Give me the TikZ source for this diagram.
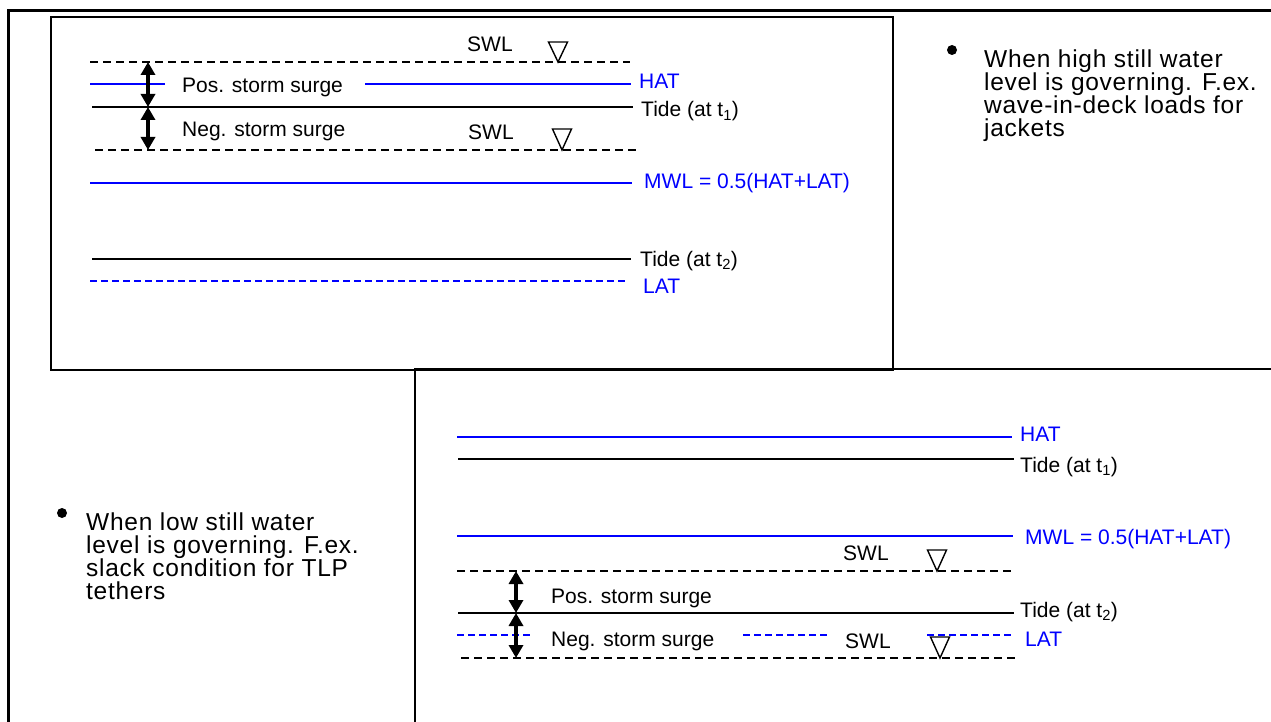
\documentclass[tikz,border=0pt]{standalone}
\usepackage{fontspec}
\setmainfont{Liberation Sans}
\newfontfamily\bulletfont[LetterSpace=3]{Liberation Sans}
\usetikzlibrary{arrows.meta}
\begin{document}
\begin{tikzpicture}[x=1pt,y=-1pt,
  lbl/.style={anchor=base west, inner sep=0pt, font=\fontsize{21}{23}\selectfont},
  bluelbl/.style={lbl, text=blue},
  level/.style={line width=1.5pt, draw=black},
  bluelevel/.style={line width=1.7pt, draw=blue},
  swl/.style={line width=2.8pt, draw=black, dash pattern=on 8pt off 5pt},
  bluedash/.style={line width=2.6pt, draw=blue, dash pattern=on 7pt off 4pt},
  surge/.style={line width=3.4pt, {Triangle[width=14pt,length=13pt]}-{Triangle[width=14pt,length=13pt]}},
  frame/.style={line width=3pt},
  boxline/.style={line width=2.4pt},
  wl/.style={line width=1.4pt, line join=miter},
  bullet/.style={circle, fill=black, inner sep=0pt, minimum size=10pt},
  btext/.style={anchor=base west, inner sep=0pt},
]
\useasboundingbox (0,0) rectangle (1271,722);

% frames
\draw[frame] (8,722) -- (8,11) -- (1271,11);
\draw[boxline] (51,17) rectangle (893,370);
\draw[boxline] (415,722) -- (415,369) -- (1271,369);

% ---------- top panel ----------
\draw[swl] (90,62) -- (630,62);
\node[lbl] (swlA) at (467,52) {SWL};
\draw[wl] (548.5,42) -- (567.5,42) -- (558,62) -- cycle;
\draw[bluelevel] (90,84) -- (165,84);
\draw[bluelevel] (365,84) -- (631,84);
\node[bluelbl] (hatA) at (639,89) {HAT};
\node[lbl] (posA) at (182,93) {Pos. storm surge};
\draw[level] (92,107) -- (633,107);
\node[lbl] (tideA) at (641,117) {Tide (at t\textsubscript{1})};
\node[lbl] (negA) at (182,137) {Neg. storm surge};
\draw[swl] (95,150) -- (636,150);
\node[lbl] (swlB) at (468,140) {SWL};
\draw[wl] (552.5,129) -- (571.5,129) -- (562,150) -- cycle;
\draw[bluelevel] (90,183) -- (632,183);
\node[bluelbl] (mwlA) at (644,189) {MWL = 0.5(HAT+LAT)};
\draw[level] (92,259) -- (631,259);
\node[lbl] (tideB) at (640,266) {Tide (at t\textsubscript{2})};
\draw[bluedash] (90,281) -- (628,281);
\node[bluelbl] (latA) at (643,293) {LAT};
\coordinate (a1) at (148,62);
\coordinate (a2) at (148,107);
\coordinate (a3) at (148,150);
\draw[surge] (a1) -- (a2);
\draw[surge] (a2) -- (a3);

% ---------- bottom panel ----------
\draw[bluelevel] (457,437) -- (1012,437);
\node[bluelbl] (hatB) at (1020,441) {HAT};
\draw[level] (458,459) -- (1014,459);
\node[lbl] (tideC) at (1020,472) {Tide (at t\textsubscript{1})};
\draw[bluelevel] (457,536) -- (1013,536);
\node[bluelbl] (mwlB) at (1025,544) {MWL = 0.5(HAT+LAT)};
\node[lbl] (swlC) at (843,560) {SWL};
\draw[wl] (927.5,550) -- (946.5,550) -- (937,571) -- cycle;
\draw[swl] (457,571) -- (1012,571);
\node[lbl] (posB) at (551,603) {Pos. storm surge};
\draw[level] (458,613) -- (1014,613);
\node[lbl] (tideD) at (1020,617) {Tide (at t\textsubscript{2})};
\draw[bluedash] (457,635) -- (532,635);
\draw[bluedash] (743,635) -- (828,635);
\draw[bluedash] (927,635) -- (1012,635);
\node[bluelbl] (latB) at (1025,646) {LAT};
\node[lbl] (negB) at (551,646) {Neg. storm surge};
\node[lbl] (swlD) at (845,648) {SWL};
\draw[wl] (930.5,637) -- (949.5,637) -- (940,658) -- cycle;
\draw[swl] (461,658) -- (1016,658);
\coordinate (b1) at (516,571);
\coordinate (b2) at (516,613);
\coordinate (b3) at (516,658);
\draw[surge] (b1) -- (b2);
\draw[surge] (b2) -- (b3);

% ---------- bullet texts ----------
\node[bullet] (dotA) at (952,50) {};
\node[btext] (textA) at (984,68) {\parbox[t]{285pt}{\bulletfont\fontsize{24.5}{23}\selectfont
  When high still water\\ level is governing. F.ex.\\ wave-in-deck loads for\\ jackets}};
\node[bullet] (dotB) at (62,513) {};
\node[btext] (textB) at (86,530) {\parbox[t]{310pt}{\bulletfont\fontsize{24.5}{23}\selectfont
  When low still water\\ level is governing. F.ex.\\ slack condition for TLP\\ tethers}};
\end{tikzpicture}
\end{document}
